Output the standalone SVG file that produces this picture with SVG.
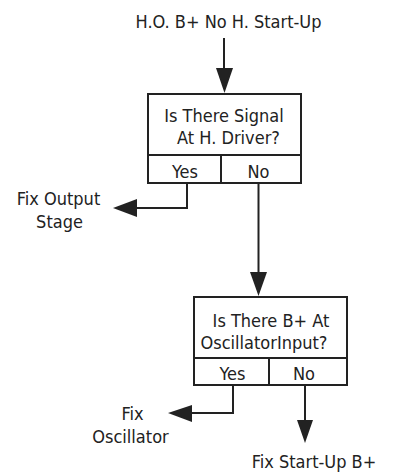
<svg xmlns="http://www.w3.org/2000/svg" width="393" height="472" viewBox="0 0 393 472">
<style>
.t text{font-family:"DejaVu Sans Condensed","DejaVu Sans",sans-serif;font-stretch:condensed;font-size:18px;fill:#222;text-anchor:middle}
.box{fill:#fff;stroke:#222;stroke-width:2}
.ln{fill:none;stroke:#222;stroke-width:2}
.ah{fill:#222;stroke:none}
</style>
<rect width="393" height="472" fill="#fff"/>
<g class="t">
<g id="start"><text x="228.5" y="28">H.O. B+ No H. Start-Up</text></g>
<g id="q1">
<rect class="box" x="148" y="94" width="153" height="89"/>
<line class="ln" x1="148" y1="155" x2="301" y2="155"/>
<line class="ln" x1="221" y1="155" x2="221" y2="183"/>
<text x="224" y="122">Is There Signal</text>
<text x="228.5" y="144">At H. Driver?</text>
<text x="185" y="178">Yes</text>
<text x="258.5" y="178">No</text>
</g>
<g id="fix-output">
<text x="58.5" y="205">Fix Output</text>
<text x="59.5" y="228">Stage</text>
</g>
<g id="q2">
<rect class="box" x="194" y="297" width="153" height="88"/>
<line class="ln" x1="194" y1="358" x2="347" y2="358"/>
<line class="ln" x1="269" y1="358" x2="269" y2="385"/>
<text x="271" y="327">Is There B+ At</text>
<text x="264" y="349">OscillatorInput?</text>
<text x="232.5" y="380">Yes</text>
<text x="304" y="380">No</text>
</g>
<g id="fix-oscillator">
<text x="132.5" y="420">Fix</text>
<text x="130.5" y="443">Oscillator</text>
</g>
<g id="fix-startup">
<text x="314" y="468">Fix Start-Up B+</text>
</g>
</g>
<g id="connectors">
<line class="ln" x1="224" y1="38" x2="224" y2="70"/>
<polygon class="ah" points="216,68 233,68 224.5,93"/>
<polyline class="ln" points="187,183 187,208 135,208"/>
<polygon class="ah" points="137,199 137,217 113,208"/>
<line class="ln" x1="258.5" y1="183" x2="258.5" y2="274"/>
<polygon class="ah" points="250,272 267,272 258.5,296"/>
<polyline class="ln" points="233,385 233,413 190,413"/>
<polygon class="ah" points="192,405 192,422 168,413"/>
<line class="ln" x1="305" y1="385" x2="305" y2="422"/>
<polygon class="ah" points="297,420 313,420 305,443"/>
</g>
</svg>
